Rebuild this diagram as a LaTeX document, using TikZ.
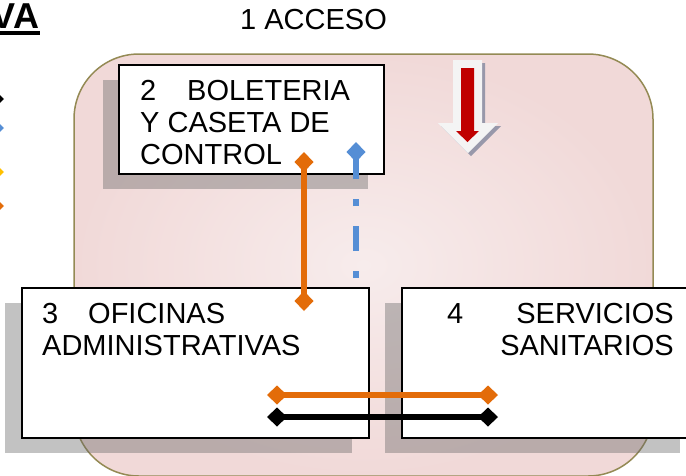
\documentclass[tikz,border=0pt]{standalone}
\usepackage{fontspec}
\setmainfont{Liberation Sans}
\usetikzlibrary{arrows.meta}
\definecolor{pinkbg}{HTML}{F1D9D8}
\definecolor{pinklt}{HTML}{F7ECEC}
\definecolor{olive}{HTML}{948A54}
\definecolor{orng}{HTML}{E36C09}
\definecolor{blu}{HTML}{558ED5}
\definecolor{yel}{HTML}{FFC000}
\definecolor{redarr}{HTML}{C00000}
\definecolor{shadowarr}{HTML}{9898AA}
\definecolor{whitearr}{HTML}{F4F4F4}
\tikzset{
  box/.style={draw=black, fill=white, line width=1.6pt, inner sep=0pt, anchor=north west},
  boxshadow/.style={fill=black!60, fill opacity=0.4},
  txt/.style={inner sep=0pt, anchor=base west, font=\fontsize{29}{32}\selectfont},
  txtr/.style={txt, anchor=base east},
  dtip/.tip={Diamond[length=20pt,width=19pt]},
  conn/.style={line width=6pt, line cap=butt},
}
\begin{document}
\begin{tikzpicture}[x=1pt,y=-1pt]
\useasboundingbox (0,0) rectangle (686,475);
\clip (0,0) rectangle (686,475);
% background rounded area
\path[draw=olive, line width=1.5pt, rounded corners=65pt, inner color=pinklt, outer color=pinkbg]
  (74,54) rectangle (653,476);
% title
\node[txt] (acceso) at (240,29) {1 ACCESO};
% partial heading at top-left
\node[inner sep=0pt, anchor=base east, font=\bfseries\fontsize{36}{36}\selectfont] (va) at (39.5,28) {VA};
\draw[line width=4.5pt] ([xshift=-20pt,yshift=-5pt]va.base west) -- ([yshift=-5pt]va.base east);
% legend tips at left edge
\coordinate (lk) at (4,99);  \coordinate (lk0) at (-80,99);
\coordinate (lb) at (4,128); \coordinate (lb0) at (-80,128);
\coordinate (ly) at (4,172); \coordinate (ly0) at (-80,172);
\coordinate (lo) at (4,206); \coordinate (lo0) at (-80,206);
\draw[conn, black, -dtip] (lk0) -- (lk);
\draw[conn, blu, -dtip] (lb0) -- (lb);
\draw[conn, yel, -dtip] (ly0) -- (ly);
\draw[conn, orng, -dtip] (lo0) -- (lo);
% shadows
\fill[boxshadow] (103,80) rectangle (368,189);
\fill[boxshadow] (5,303) rectangle (352,453);
\fill[boxshadow] (385,303) rectangle (680,453);
% boxes
\node[box, minimum width=265pt, minimum height=109pt] (b2) at (118,64) {};
\node[box, minimum width=347pt, minimum height=150pt] (b3) at (21,287) {};
\node[box, minimum width=295pt, minimum height=150pt] (b4) at (401,287) {};
% texts
\node[txt] (t2n) at (140,100) {2};
\node[txt] (t2a) at (187,100) {BOLETERIA};
\node[txt] (t2b) at (140,132) {Y CASETA DE};
\node[txt] (t2c) at (140,164) {CONTROL};
\node[txt] (t3n) at (42,323) {3};
\node[txt] (t3a) at (88,323) {OFICINAS};
\node[txt] (t3b) at (42,355) {ADMINISTRATIVAS};
\node[txt] (t4n) at (447,323) {4};
\node[txtr] (t4a) at (674,323) {SERVICIOS};
\node[txtr] (t4b) at (674,355) {SANITARIOS};
% access arrow
\fill[shadowarr] (456,63) -- (485,63) -- (485,126) -- (501,126) -- (471,156) -- (441,126) -- (456,126) -- cycle;
\fill[whitearr] (453,60) -- (482,60) -- (482,123) -- (498,123) -- (468,153) -- (438,123) -- (453,123) -- cycle;
\fill[redarr] (461,68) -- (474,68) -- (474,131) -- (479,131) -- (467.5,142) -- (456,131) -- (461,131) -- cycle;
% connectors
\coordinate (o2) at (304,152);
\coordinate (o3) at (304,311);
\draw[conn, orng, dtip-dtip] (o2) -- (o3);
\coordinate (bl2) at (356,142);
\coordinate (bl3) at (356,278);
\draw[conn, line width=6.5pt, blu, dash pattern=on 7pt off 20pt on 25pt off 20pt, -dtip] (bl3) -- (bl2);
\coordinate (oh3) at (267,395);
\coordinate (oh4) at (498,395);
\draw[conn, orng, dtip-dtip] (oh3) -- (oh4);
\coordinate (kh3) at (267,417);
\coordinate (kh4) at (498,417);
\draw[conn, black, dtip-dtip] (kh3) -- (kh4);
\end{tikzpicture}
\end{document}
